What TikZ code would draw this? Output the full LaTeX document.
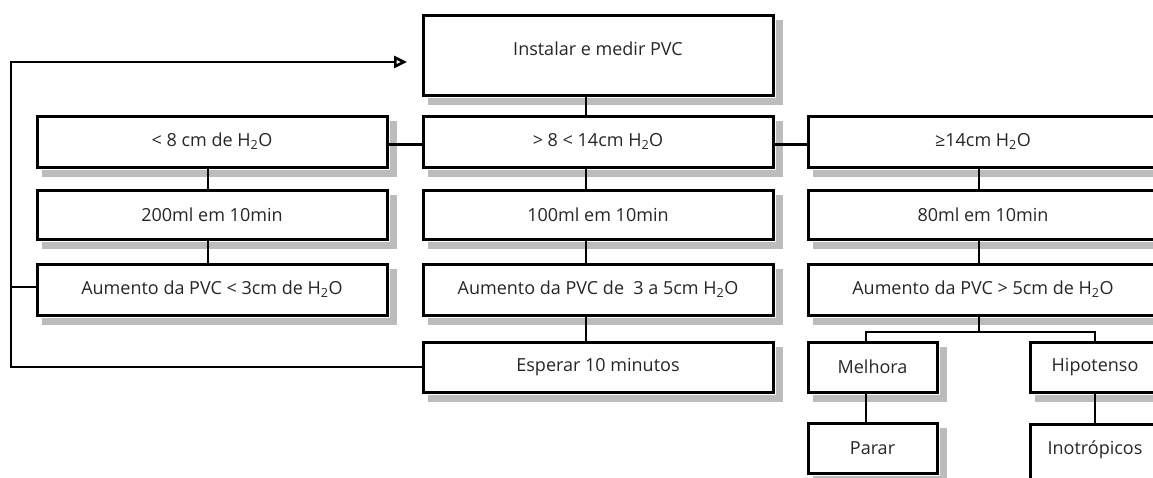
\documentclass[tikz,border=0pt]{standalone}
\usepackage{fontspec}
\setmainfont{Open Sans}
\usetikzlibrary{arrows.meta}
\definecolor{shd}{RGB}{188,188,188}
\tikzset{
  bx/.style={draw=black, line width=3pt, text=black!85,
    minimum width=350pt, minimum height=50pt, inner sep=0pt,
    font=\fontsize{18}{20}\selectfont},
  sbx/.style={bx, minimum width=129pt},
  ln/.style={line width=2.6pt, draw=black},
  shadowline/.style={draw=shd, line width=7pt, line cap=butt, line join=miter},
}
\newcommand{\shadowof}[1]{\draw[shadowline] ([shift={(6pt,-5pt)}]#1.south west) -- ([shift={(5pt,-5pt)}]#1.south east) -- ([shift={(5pt,-6pt)}]#1.north east);}
\begin{document}
\begin{tikzpicture}[x=1pt,y=-1pt]
\useasboundingbox (0,0) rectangle (1153,477);
% nodes
\node[bx, minimum height=80pt, text depth=13pt] (inst) at (598,55) {Instalar e medir PVC};
\node[bx, minimum height=51pt] (r2l) at (212,141.5) {< 8 cm de H\textsubscript{2}O};
\node[bx, minimum height=51pt] (r2m) at (598,141.5) {> 8 < 14cm H\textsubscript{2}O};
\node[bx, minimum height=51pt] (r2r) at (983,141.5) {≥14cm H\textsubscript{2}O};
\node[bx, minimum height=49pt] (r3l) at (212,214.5) {200ml em 10min};
\node[bx, minimum height=49pt] (r3m) at (598,214.5) {100ml em 10min};
\node[bx, minimum height=49pt] (r3r) at (983,214.5) {80ml em 10min};
\node[bx, minimum height=51pt] (r4l) at (212,289.5) {Aumento da PVC < 3cm de H\textsubscript{2}O};
\node[bx, minimum height=51pt] (r4m) at (598,289.5) {Aumento da PVC de \ 3 a 5cm H\textsubscript{2}O};
\node[bx, minimum height=51pt] (r4r) at (983,289.5) {Aumento da PVC > 5cm de H\textsubscript{2}O};
\node[bx] (esp) at (598,367) {Esperar 10 minutos};
\node[sbx] (mel) at (872.5,367) {Melhora};
\node[sbx, minimum width=130pt] (hip) at (1095,367) {Hipotenso};
\node[sbx] (par) at (872.5,448) {Parar};
\node[sbx, minimum width=130pt, minimum height=56pt, text depth=8pt] (ino) at (1095,452) {Inotrópicos};
% shadows
\shadowof{inst}
\shadowof{r2l}\shadowof{r2m}\shadowof{r2r}
\shadowof{r3l}\shadowof{r3m}\shadowof{r3r}
\shadowof{r4l}\shadowof{r4m}\shadowof{r4r}
\shadowof{esp}\shadowof{mel}\shadowof{hip}\shadowof{par}\shadowof{ino}
% coordinates
\coordinate (loopB) at (11,367);
\coordinate (loopM) at (11,287);
\coordinate (loopT) at (11,62);
\coordinate (arr) at (407,62);
\coordinate (br) at (979,332);
% connectors
\draw[ln] ([xshift=-12pt]inst.south) -- ([xshift=-12pt]r2m.north);
\draw[ln] ([yshift=-3pt]r2l.east) -- ([yshift=-3pt]r2m.west);
\draw[ln] ([yshift=-3pt]r2m.east) -- ([yshift=-3pt]r2r.west);
\draw[ln] ([xshift=-4pt]r2l.south) -- ([xshift=-4pt]r3l.north);
\draw[ln] ([xshift=-4pt]r3l.south) -- ([xshift=-4pt]r4l.north);
\draw[ln] ([xshift=-12pt]r2m.south) -- ([xshift=-12pt]r3m.north);
\draw[ln] ([xshift=-12pt]r3m.south) -- ([xshift=-12pt]r4m.north);
\draw[ln] ([xshift=-12pt]r4m.south) -- ([xshift=-12pt]esp.north);
\draw[ln] ([xshift=-4pt]r2r.south) -- ([xshift=-4pt]r3r.north);
\draw[ln] ([xshift=-4pt]r3r.south) -- ([xshift=-4pt]r4r.north);
\draw[ln] ([xshift=-4pt]r4r.south) -- (br);
\draw[ln] ([xshift=-6.5pt]mel.north) |- (br) -| (hip.north);
\draw[ln] ([xshift=-6.5pt]mel.south) -- ([xshift=-6.5pt]par.north);
\draw[ln] (hip.south) -- (ino.north);
\draw[ln] ([yshift=2.5pt]r4l.west) -- (loopM);
\draw[ln, -{Triangle[open, length=13pt, width=12pt]}] (esp.west) -- (loopB) -- (loopT) -- (arr);
\end{tikzpicture}
\end{document}
